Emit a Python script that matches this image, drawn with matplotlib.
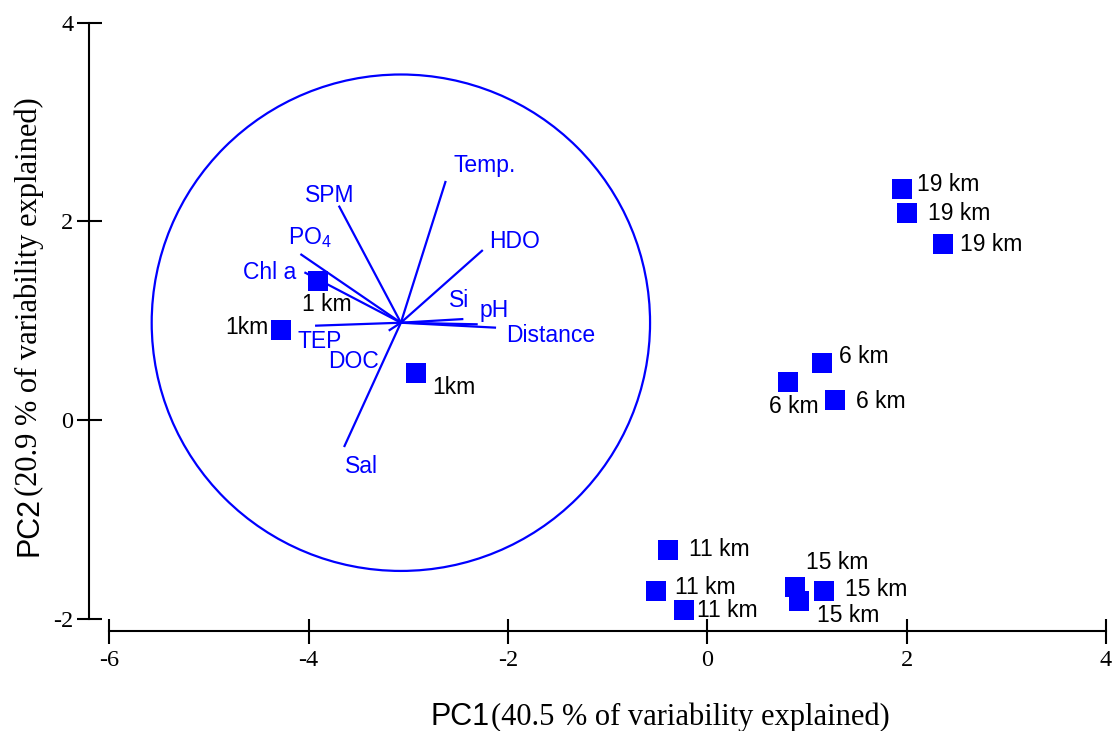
"""PCA biplot: stations (PC1/PC2 scores) with variable loadings inside a unit circle."""

import matplotlib

matplotlib.use("Agg")
import matplotlib.pyplot as plt
from matplotlib.patches import Circle

plt.rcParams["mathtext.fontset"] = "custom"
plt.rcParams["mathtext.rm"] = "Liberation Sans"

SANS = "Liberation Sans"
SERIF = "Liberation Serif"
BLUE = "#0000ff"

# station scores
station_x = [-3.911, -4.277, -2.928, 1.953, 1.999, 2.362, 1.148, 0.810, 1.276,
             -0.397, -0.515, -0.239, 0.880, 0.920, 1.166]
station_y = [1.400, 0.907, 0.473, 2.327, 2.085, 1.773, 0.574, 0.383, 0.201,
             -1.310, -1.723, -1.914, -1.682, -1.823, -1.718]
station_labels = ["1 km", "1km", "1km", "19 km", "19 km", "19 km", "6 km", "6 km", "6 km",
                  "11 km", "11 km", "11 km", "15 km", "15 km", "15 km"]
station_label_x = [-4.069, -4.839, -2.765, 2.101, 2.211, 2.535, 1.321, 0.622, 1.489,
                   -0.181, -0.324, -0.106, 0.990, 1.382, 1.098]
station_label_y = [1.101, 0.866, 0.262, 2.310, 2.015, 1.705, 0.571, 0.067, 0.118,
                   -1.370, -1.753, -1.988, -1.504, -1.773, -2.032]

# correlation circle (drawn in score space)
circle_center = (-3.075, 0.98)
circle_radius = 2.5

# loading vectors (end points, from circle centre)
var_names = ["Temp.", "SPM", r"PO$_\mathrm{4}$", "Chl a", "HDO", "Si", "pH",
             "Distance", "TEP", "DOC", "Sal"]
var_end_x = [-2.625, -3.698, -4.083, -4.043, -2.253, -2.448, -2.304, -2.120, -3.936, -3.197, -3.645]
var_end_y = [2.408, 2.159, 1.672, 1.488, 1.712, 1.017, 0.964, 0.930, 0.950, 0.900, -0.272]
var_label_x = [-2.551, -4.036, -4.204, -4.661, -2.187, -2.589, -2.288, -2.020, -4.110, -3.803, -3.635]
var_label_y = [2.503, 2.199, 1.773, 1.417, 1.730, 1.141, 1.041, 0.783, 0.722, 0.521, -0.537]

fig = plt.figure(figsize=(11.15, 7.31), dpi=100)
ax = fig.add_axes([0.07955, 0.1368, 0.9169, 0.8387])
ax.set_xlim(-6.207, 4.05)
ax.set_ylim(-2.125, 4.05)

ax.add_patch(Circle(circle_center, circle_radius, fill=False, edgecolor=BLUE, linewidth=1.6))

cx, cy = circle_center
for ex, ey in zip(var_end_x, var_end_y):
    ax.plot([cx, ex], [cy, ey], color=BLUE, linewidth=1.6, solid_capstyle="butt")
for name, lx, ly in zip(var_names, var_label_x, var_label_y):
    ax.text(lx, ly, name, color=BLUE, fontsize=16.5, family=SANS, ha="left", va="baseline")

ax.plot(station_x, station_y, "s", color=BLUE, markersize=15, markeredgewidth=0, zorder=3)
for lab, lx, ly in zip(station_labels, station_label_x, station_label_y):
    ax.text(lx, ly, lab, color="black", fontsize=16.5, family=SANS, ha="left", va="baseline")

for side in ("top", "right"):
    ax.spines[side].set_visible(False)
for side in ("left", "bottom"):
    ax.spines[side].set_linewidth(1.5)
ax.spines["left"].set_bounds(-2, 4)
ax.spines["bottom"].set_bounds(-6, 4)

ax.set_xticks([-6, -4, -2, 0, 2, 4])
ax.set_yticks([-2, 0, 2, 4])
ax.set_xticklabels(["-6", "-4", "-2", "0", "2", "4"])
ax.set_yticklabels(["-2", "0", "2", "4"])
ax.tick_params(axis="both", direction="inout", length=18, width=1.5, labelsize=17.5)
ax.tick_params(axis="x", pad=5)
ax.tick_params(axis="y", pad=2)
for lab in ax.get_xticklabels() + ax.get_yticklabels():
    lab.set_family(SERIF)

# axis titles: sans "PC" part followed by serif description
W, H = 1115.0, 731.0
fig.text(490 / W, 1 - 725 / H, "PC1", fontsize=22, family=SANS, ha="right", va="baseline")
fig.text(491 / W, 1 - 725 / H, "(40.5 % of variability explained)", fontsize=22,
         family=SERIF, ha="left", va="baseline")
fig.text(37 / W, 1 - 497 / H, "PC2", fontsize=22, family=SANS, rotation=90,
         rotation_mode="anchor", ha="right", va="baseline")
fig.text(37 / W, 1 - 496 / H, "(20.9 % of variability explained)", fontsize=22,
         family=SERIF, rotation=90, rotation_mode="anchor", ha="left", va="baseline")

fig.savefig("out.png", dpi=100)
